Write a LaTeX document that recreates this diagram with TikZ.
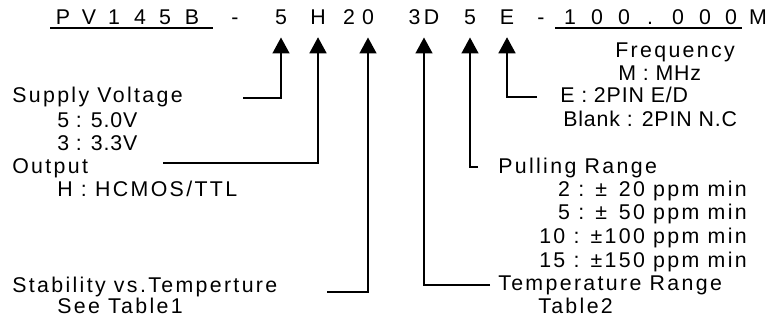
\documentclass[tikz,border=0pt]{standalone}
\usepackage{fontspec}
\setmainfont{Liberation Sans}
\newfontfamily\spaced[LetterSpace=11]{Liberation Sans}
\newfontfamily\medsp[LetterSpace=4]{Liberation Sans}
\usetikzlibrary{arrows.meta}

\begin{document}
\begin{tikzpicture}[x=0.75pt,y=-0.75pt]
    % Styles
    \tikzset{code char/.style={anchor=base,inner sep=0pt,font=\fontsize{16}{19}\selectfont},
             lbl/.style={anchor=base west,inner sep=0pt,font=\fontsize{16}{19}\selectfont\spaced},
             val/.style={anchor=base west,inner sep=0pt,font=\fontsize{16}{19}\selectfont\medsp},
             ppm/.style={anchor=base east,inner sep=0pt,font=\fontsize{16}{19}\selectfont\spaced},
             pointer/.style={-{Triangle[width=12.75pt,length=12pt]},line width=1.1pt,shorten >=9.75pt},
             uline/.style={line width=1.8pt}}
    \useasboundingbox (0,0) rectangle (777,322);

    % --- Part number, one character per node ---
    \foreach \x/\c/\n in {63/P/c1,89/V/c2,114/1/c3,140/4/c4,165/5/c5,192/B/c6,
                          235/-/dash1,281/5/volt,318/H/out,349/2/stabA,368/0/stab,
                          424/{3\,D}/temp,470/5/pull,507/E/en,541/-/dash2,
                          570/1/f1,597/0/f2,624/0/f3,650/./f4,678/0/f5,705/0/f6,731/0/f7,758/M/unit}
        \node[code char] (\n) at (\x,24) {\c};

    % Underlines
    \draw[uline] (50,28) -- (213,28);
    \draw[uline] (555,28) -- (742,28);

    % --- Left column ---
    \node[lbl] (supply) at (12,102) {Supply Voltage};
    \node[val] (v5) at (57,127) {5 : 5.0V};
    \node[val] (v3) at (57,150) {3 : 3.3V};
    \node[lbl] (output) at (12,173) {Output};
    \node[lbl] (hcmos) at (57,196) {H : HCMOS/TTL};
    \node[lbl] (stability) at (12,292) {Stability vs.Temperture};
    \node[lbl] (table1) at (57,313) {See Table1};

    % --- Right column ---
    \node[lbl] (freq) at (615,57) {Frequency};
    \node[val] (mhz) at (618,80) {M : MHz};
    \node[val] (enable) at (560,102) {E : 2PIN E/D};
    \node[val] (blank) at (563,126) {Blank : 2PIN N.C};
    \node[lbl] (pulling) at (498,173) {Pulling Range};
    \node[ppm] (p2) at (747,196) {2 : ±\phantom{1}20 ppm min};
    \node[ppm] (p5) at (747,219) {5 : ±\phantom{1}50 ppm min};
    \node[ppm] (p10) at (747,243) {10 : ±100 ppm min};
    \node[ppm] (p15) at (747,267) {15 : ±150 ppm min};
    \node[lbl] (temprange) at (498,290) {Temperature Range};
    \node[lbl] (table2) at (538,313) {Table2};

    % --- Leader ends ---
    \coordinate (volt in) at (243,98);
    \coordinate (out in) at (163,163);
    \coordinate (stab in) at (327,292);
    \coordinate (temp in) at (490,285);
    \coordinate (pull in) at (478,167);
    \coordinate (en in) at (537,97);

    % --- Pointers up to the part number ---
    \draw[pointer] (volt in) -| (volt.south);
    \draw[pointer] (out in) -| (out.south);
    \draw[pointer] (stab in) -| (stab.south);
    \draw[pointer] (temp in) -| (temp.south);
    \draw[pointer] (pull in) -| (pull.south);
    \draw[pointer] (en in) -| (en.south);
\end{tikzpicture}
\end{document}
